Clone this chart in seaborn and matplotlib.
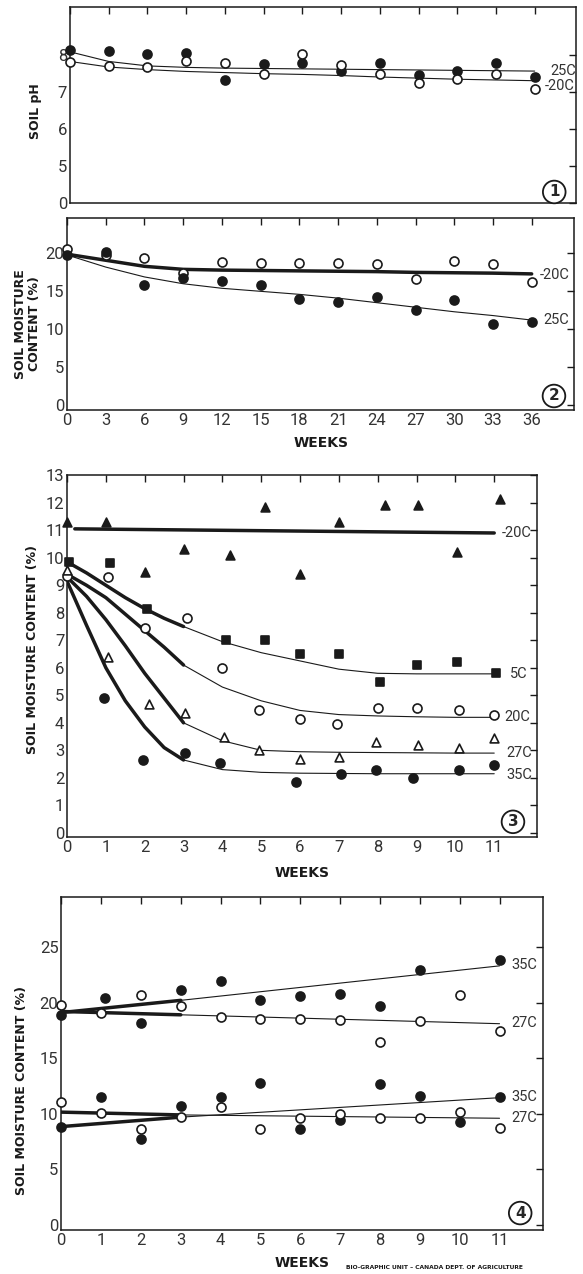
import numpy as np
import matplotlib
matplotlib.use('Agg')
import matplotlib.pyplot as plt
import seaborn as sns

# ---- panel 1: soil pH, 0-36 weeks
p1_weeks = [0, 3, 6, 9, 12, 15, 18, 21, 24, 27, 30, 33, 36]
p1_ph_25 = [8.14, 8.10, 8.01, 8.05, 7.33, 7.75, 7.78, 7.55, 7.78, 7.45, 7.55, 7.77, 7.39]
p1_ph_20 = [7.80, 7.69, 7.66, 7.82, 7.78, 7.48, 8.01, 7.73, 7.49, 7.23, 7.35, 7.48, 7.07]
p1_fit_25 = [8.08, 7.82, 7.70, 7.66, 7.64, 7.63, 7.62, 7.61, 7.60, 7.59, 7.58, 7.57, 7.56]
p1_fit_20 = [7.82, 7.67, 7.60, 7.55, 7.52, 7.49, 7.47, 7.44, 7.40, 7.37, 7.34, 7.32, 7.30]

# ---- panel 2: moisture, 0-36 weeks
p2_weeks = p1_weeks
p2_open_20 = [20.6, 19.8, 19.4, 17.4, 18.9, 18.7, 18.8, 18.7, 18.6, 16.6, 19.0, 18.6, 16.2]
p2_fill_25 = [19.8, 20.2, 15.9, 16.7, 16.3, 15.8, 14.0, 13.6, 14.2, 12.5, 13.8, 10.7, 11.0]
p2_fit_20 = [19.9, 19.1, 18.3, 17.9, 17.8, 17.75, 17.7, 17.65, 17.6, 17.5, 17.45, 17.4, 17.3]
p2_fit_25 = [19.8, 18.2, 16.9, 16.0, 15.4, 15.0, 14.6, 14.1, 13.5, 12.9, 12.3, 11.8, 11.2]

# ---- panel 3: moisture, 0-11 weeks
p3_tri_fill_x = [0, 1, 2, 3, 4.2, 5.1, 6, 7, 8.2, 9.05, 10.05, 11.15]
p3_tri_fill_y = [11.3, 11.3, 9.5, 10.3, 10.1, 11.85, 9.4, 11.3, 11.9, 11.9, 10.2, 12.15]
p3_sq_x = [0.05, 1.1, 2.05, 4.1, 5.1, 6, 7, 8.05, 9, 10.05, 11.05]
p3_sq_y = [9.85, 9.8, 8.15, 7.0, 7.0, 6.5, 6.5, 5.5, 6.1, 6.2, 5.8]
p3_circ_open_x = [0, 1.05, 2, 3.1, 4, 4.95, 6, 6.95, 8, 9, 10.1, 11]
p3_circ_open_y = [9.35, 9.3, 7.45, 7.8, 6.0, 4.45, 4.15, 3.95, 4.55, 4.55, 4.45, 4.3]
p3_tri_open_x = [0, 1.05, 2.1, 3.05, 4.05, 4.95, 6, 7, 7.95, 9.05, 10.1, 11]
p3_tri_open_y = [9.55, 6.4, 4.7, 4.35, 3.5, 3.0, 2.7, 2.75, 3.3, 3.2, 3.1, 3.45]
p3_circ_fill_x = [0.95, 1.95, 3.05, 3.95, 5.9, 7.05, 7.95, 8.9, 10.1, 11]
p3_circ_fill_y = [4.9, 2.65, 2.9, 2.55, 1.85, 2.15, 2.3, 2.0, 2.3, 2.45]

p3_thick_x = [0, 0.5, 1, 1.5, 2, 2.5, 3]
p3_thick_5 = [9.85, 9.45, 9.0, 8.55, 8.15, 7.8, 7.5]
p3_thick_20 = [9.4, 9.0, 8.55, 7.95, 7.35, 6.75, 6.1]
p3_thick_27 = [9.3, 8.6, 7.75, 6.8, 5.8, 4.9, 4.0]
p3_thick_35 = [9.15, 7.55, 6.0, 4.8, 3.85, 3.1, 2.65]
p3_thin_x = [3, 4, 5, 6, 7, 8, 9, 10, 11]
p3_thin_5 = [7.5, 6.95, 6.55, 6.25, 5.95, 5.8, 5.78, 5.78, 5.78]
p3_thin_20 = [6.1, 5.3, 4.8, 4.45, 4.3, 4.25, 4.22, 4.2, 4.2]
p3_thin_27 = [4.0, 3.35, 3.0, 2.95, 2.93, 2.92, 2.91, 2.9, 2.9]
p3_thin_35 = [2.65, 2.3, 2.2, 2.17, 2.16, 2.15, 2.15, 2.15, 2.15]
p3_flat_x = [0.2, 11]
p3_flat_20 = [11.05, 10.9]

# ---- panel 4: moisture, 0-11 weeks, two soils
p4_weeks = [0, 1, 2, 3, 4, 5, 6, 7, 8, 9, 10, 11]
p4_up35_x = [0, 1.1, 2, 3, 4, 5, 6, 7, 8, 9, 11]
p4_up35_y = [18.9, 20.4, 18.2, 21.1, 21.9, 20.2, 20.6, 20.8, 19.7, 22.9, 23.8]
p4_up27 = [19.8, 19.1, 20.7, 19.7, 18.7, 18.5, 18.5, 18.4, 16.5, 18.3, 20.7, 17.4]
p4_lo35 = [8.8, 11.5, 7.7, 10.7, 11.5, 12.8, 8.6, 9.4, 12.7, 11.6, 9.25, 11.5]
p4_lo27 = [11.05, 10.05, 8.65, 9.7, 10.65, 8.6, 9.65, 10.0, 9.6, 9.6, 10.15, 8.7]
p4_thick_x = [0, 3]
p4_thin_x = [3, 11]
p4_up35_thick = [19.1, 20.2]
p4_up35_thin = [20.2, 23.3]
p4_up27_thick = [19.2, 18.9]
p4_up27_thin = [18.9, 18.1]
p4_lo35_thick = [8.85, 9.7]
p4_lo35_thin = [9.7, 11.45]
p4_lo27_thick = [10.15, 9.9]
p4_lo27_thin = [9.9, 9.6]

sns.set_style('white')
plt.rcParams['font.family'] = ['Roboto', 'DejaVu Sans']
INK = '#1a1a1a'
THIN = 0.8
THICK = 2.5
MS = 42

fig = plt.figure(figsize=(5.83, 12.74), dpi=100)
ax1 = fig.add_axes([0.120, 0.8407, 0.868, 0.1538])
ax2 = fig.add_axes([0.115, 0.678, 0.870, 0.151])
ax3 = fig.add_axes([0.115, 0.343, 0.806, 0.284])
ax4 = fig.add_axes([0.105, 0.0345, 0.827, 0.2615])


def dots(ax, x, y, marker='o', filled=True, s=MS):
    sns.scatterplot(x=x, y=y, ax=ax, marker=marker, s=s,
                    color=INK if filled else 'white', edgecolor=INK,
                    linewidth=1.2, clip_on=False, zorder=4)


def curve(ax, x, y, lw):
    sns.lineplot(x=x, y=y, ax=ax, color=INK, linewidth=lw, zorder=3)


def frame(ax, num, pos):
    for sp in ax.spines.values():
        sp.set_linewidth(1.1)
        sp.set_color(INK)
    ax.tick_params(direction='in', top=True, right=True, length=5, width=1,
                   color=INK, labelsize=12, labelcolor='#333333', pad=2)
    ax.text(pos[0], pos[1], num, transform=ax.transAxes, ha='center', va='center',
            fontsize=11, fontweight='bold', family='DejaVu Sans',
            bbox=dict(boxstyle='circle,pad=0.25', fc='white', ec=INK, lw=1.3))


lab_kw = dict(fontsize=9, fontweight='bold', family='DejaVu Sans', color=INK)
weeks_kw = dict(fontsize=10, fontweight='bold', family='DejaVu Sans', color=INK)
note_kw = dict(fontsize=10.5, color='#333333', va='center')

# panel 1
curve(ax1, p1_weeks, p1_fit_25, THIN)
curve(ax1, p1_weeks, p1_fit_20, THIN)
dots(ax1, p1_weeks, p1_ph_25)
dots(ax1, p1_weeks, p1_ph_20, filled=False)
ax1.set_yscale('function', functions=(lambda v: np.where(v >= 5, v - 4.0, v / 5.0),
                                      lambda u: np.where(u >= 1, u + 4.0, u * 5.0)))
ax1.set_ylim(0, 9.29)
ax1.set_yticks([0, 5, 6, 7, 8])
ax1.set_yticklabels(['0', '5', '6', '7', '8'])
ax1.set_xlim(0, 39.2)
ax1.set_xticks(p1_weeks)
ax1.set_xticklabels([])
frame(ax1, '1', (0.957, 0.056))
ax1.set_ylabel('SOIL pH', **lab_kw)
ax1.yaxis.set_label_coords(-0.055, 0.47)
ax1.text(37.2, 7.57, '25C', **note_kw)
ax1.text(36.8, 7.17, '-20C', **note_kw)

# panel 2
curve(ax2, p2_weeks, p2_fit_20, THICK)
curve(ax2, p2_weeks, p2_fit_25, THIN)
dots(ax2, p2_weeks, p2_open_20, filled=False)
dots(ax2, p2_weeks, p2_fill_25)
ax2.set_ylim(-0.7, 24.7)
ax2.set_yticks([0, 5, 10, 15, 20])
ax2.set_xlim(0, 39.3)
ax2.set_xticks(p2_weeks)
frame(ax2, '2', (0.96, 0.074))
ax2.set_ylabel('SOIL MOISTURE\nCONTENT (%)', linespacing=1.1, **lab_kw)
ax2.yaxis.set_label_coords(-0.052, 0.45)
ax2.set_xlabel('WEEKS', labelpad=6, **weeks_kw)
ax2.text(36.6, 17.2, '-20C', **note_kw)
ax2.text(36.9, 11.2, '25C', **note_kw)

# panel 3
curve(ax3, p3_flat_x, p3_flat_20, THICK)
for xs, ys, lw in [(p3_thick_x, p3_thick_5, THICK), (p3_thick_x, p3_thick_20, THICK),
                   (p3_thick_x, p3_thick_27, THICK), (p3_thick_x, p3_thick_35, THICK),
                   (p3_thin_x, p3_thin_5, THIN), (p3_thin_x, p3_thin_20, THIN),
                   (p3_thin_x, p3_thin_27, THIN), (p3_thin_x, p3_thin_35, THIN)]:
    curve(ax3, xs, ys, lw)
dots(ax3, p3_tri_fill_x, p3_tri_fill_y, marker='^', s=40)
dots(ax3, p3_sq_x, p3_sq_y, marker='s', s=36)
dots(ax3, p3_circ_open_x, p3_circ_open_y, filled=False)
dots(ax3, p3_tri_open_x, p3_tri_open_y, marker='^', filled=False, s=40)
dots(ax3, p3_circ_fill_x, p3_circ_fill_y)
ax3.set_ylim(-0.15, 13)
ax3.set_yticks(range(0, 14))
ax3.set_xlim(0, 12.1)
ax3.set_xticks(range(0, 12))
frame(ax3, '3', (0.949, 0.042))
ax3.set_ylabel('SOIL MOISTURE CONTENT (%)', **lab_kw)
ax3.yaxis.set_label_coords(-0.06, 0.517)
ax3.set_xlabel('WEEKS', labelpad=8, **weeks_kw)
ax3.text(11.2, 10.9, '-20C', **note_kw)
ax3.text(11.4, 5.78, '5C', **note_kw)
ax3.text(11.25, 4.2, '20C', **note_kw)
ax3.text(11.3, 2.9, '27C', **note_kw)
ax3.text(11.3, 2.1, '35C', **note_kw)

# panel 4
for xs, ys, lw in [(p4_thick_x, p4_up35_thick, THICK), (p4_thin_x, p4_up35_thin, THIN),
                   (p4_thick_x, p4_up27_thick, THICK), (p4_thin_x, p4_up27_thin, THIN),
                   (p4_thick_x, p4_lo35_thick, THICK), (p4_thin_x, p4_lo35_thin, THIN),
                   (p4_thick_x, p4_lo27_thick, THICK), (p4_thin_x, p4_lo27_thin, THIN)]:
    curve(ax4, xs, ys, lw)
dots(ax4, p4_up35_x, p4_up35_y)
dots(ax4, p4_weeks, p4_up27, filled=False)
dots(ax4, p4_weeks, p4_lo35)
dots(ax4, p4_weeks, p4_lo27, filled=False)
ax4.set_ylim(-0.45, 29.5)
ax4.set_yticks([0, 5, 10, 15, 20, 25])
ax4.set_xlim(0, 12.1)
ax4.set_xticks(range(0, 12))
frame(ax4, '4', (0.952, 0.051))
ax4.set_ylabel('SOIL MOISTURE CONTENT (%)', **lab_kw)
ax4.yaxis.set_label_coords(-0.068, 0.42)
ax4.set_xlabel('WEEKS', labelpad=6, **weeks_kw)
ax4.text(11.3, 23.4, '35C', **note_kw)
ax4.text(11.3, 18.2, '27C', **note_kw)
ax4.text(11.3, 11.5, '35C', **note_kw)
ax4.text(11.3, 9.6, '27C', **note_kw)

fig.text(0.594, 0.004, 'BIO-GRAPHIC UNIT \u2013 CANADA DEPT. OF AGRICULTURE',
         fontsize=4.3, fontweight='bold', family='DejaVu Sans', color=INK)

fig.savefig('out.png', dpi=100)
